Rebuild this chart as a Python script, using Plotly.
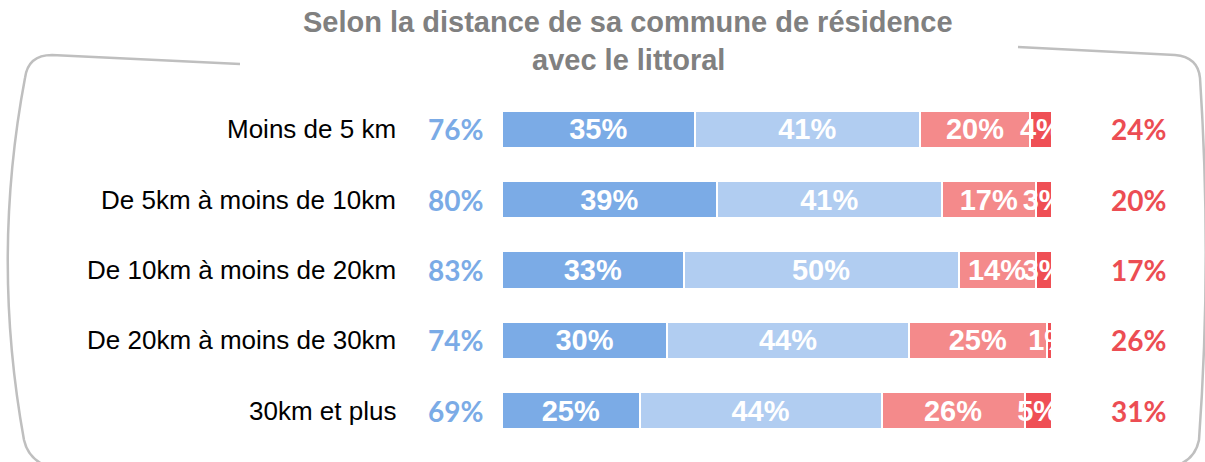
import plotly.graph_objects as go

# Response shares by distance band (percent)
categories = [
    "Moins de 5 km",
    "De 5km à moins de 10km",
    "De 10km à moins de 20km",
    "De 20km à moins de 30km",
    "30km et plus",
]
tout_a_fait = [35, 39, 33, 30, 25]
plutot_oui = [41, 41, 50, 44, 44]
plutot_non = [20, 17, 14, 25, 26]
pas_du_tout = [4, 3, 3, 1, 5]

title_lines = ["Selon la distance de sa commune de résidence", "avec le littoral"]

total_oui = [a + b for a, b in zip(tout_a_fait, plutot_oui)]
total_non = [a + b for a, b in zip(plutot_non, pas_du_tout)]

W, H = 1205, 462
ML, MR, MT, MB = 502, 153, 94, 16
PW, PH = W - ML - MR, H - MT - MB


def px(x):
    return (x - ML) / PW


def py(y):
    return (H - MB - y) / PH


series = [
    (tout_a_fait, "#7BABE6"),
    (plutot_oui, "#B1CDF1"),
    (plutot_non, "#F48A8B"),
    (pas_du_tout, "#EF4F55"),
]

fig = go.Figure()
for values, color in series:
    fig.add_trace(go.Bar(
        x=values,
        y=list(range(len(categories))),
        orientation="h",
        marker=dict(color=color, line=dict(color="white", width=2)),
        text=[f"{v}%" for v in values],
        textposition="inside",
        insidetextanchor="middle",
        constraintext="none",
        textangle=0,
        insidetextfont=dict(family="Liberation Sans, Arial", size=29, color="white", weight="bold"),
        hoverinfo="skip",
        showlegend=False,
    ))

annotations = []
for i, cat in enumerate(categories):
    annotations.append(dict(
        x=px(398), xref="paper", y=i, yref="y", text=cat, showarrow=False,
        xanchor="right", yanchor="middle",
        font=dict(family="Liberation Sans, Arial", size=26, color="#000000"),
    ))
    annotations.append(dict(
        x=px(455), xref="paper", y=i, yref="y", text=f"{total_oui[i]}%", showarrow=False,
        xanchor="center", yanchor="middle",
        font=dict(family="Lato", size=28, color="#7BABE6", weight="bold"),
    ))
    annotations.append(dict(
        x=px(1138), xref="paper", y=i, yref="y", text=f"{total_non[i]}%", showarrow=False,
        xanchor="center", yanchor="middle",
        font=dict(family="Lato", size=28, color="#EC4D53", weight="bold"),
    ))

for line, yc in zip(title_lines, [22, 60]):
    annotations.append(dict(
        x=px(628), xref="paper", y=py(yc), yref="paper", text=line, showarrow=False,
        xanchor="center", yanchor="middle",
        font=dict(family="Liberation Sans, Arial", size=29, color="#808080", weight="bold"),
    ))


def path(points):
    cmds = []
    for p in points:
        op, coords = p[0], p[1:]
        parts = [op]
        for j in range(0, len(coords), 2):
            parts.append(f"{px(coords[j]):.5f},{py(coords[j + 1]):.5f}")
        cmds.append(" ".join(parts))
    return " ".join(cmds)


frame_left = path([
    ("M", 240, 64), ("L", 52, 55), ("Q", 28, 55, 25, 78),
    ("Q", -9, 258, 24, 440), ("Q", 28, 458, 46, 466),
])
frame_right = path([
    ("M", 1018, 47), ("L", 1175, 55), ("Q", 1198, 57, 1200, 78),
    ("Q", 1212, 260, 1199, 440), ("Q", 1195, 460, 1175, 466),
])
shapes = [
    dict(type="path", path=p, xref="paper", yref="paper",
         line=dict(color="#BFBFBF", width=2.5), layer="below")
    for p in (frame_left, frame_right)
]

fig.update_layout(
    barmode="stack",
    bargap=0.474,
    width=W,
    height=H,
    margin=dict(l=ML, r=MR, t=MT, b=MB),
    paper_bgcolor="white",
    plot_bgcolor="white",
    xaxis=dict(range=[0, 100], visible=False, fixedrange=True),
    yaxis=dict(range=[len(categories) - 0.5, -0.5], visible=False, fixedrange=True),
    annotations=annotations,
    shapes=shapes,
)

fig.write_html("out.html", config={"displayModeBar": False})
